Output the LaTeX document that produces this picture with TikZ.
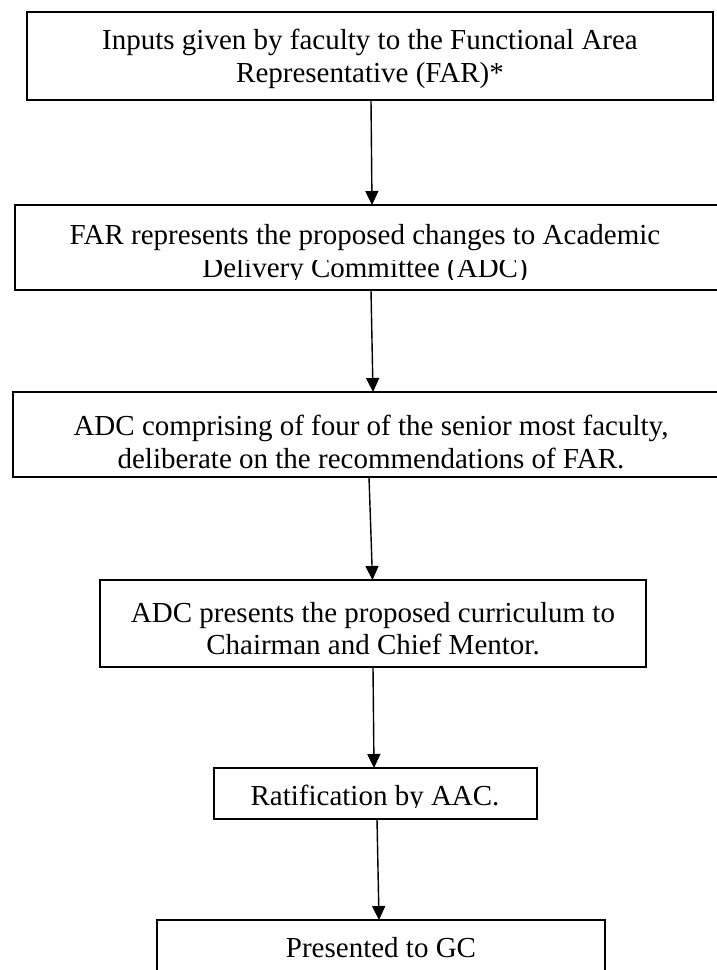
\documentclass[tikz,border=0pt]{standalone}
\usepackage{fontspec}
\setmainfont{Liberation Serif}
\usetikzlibrary{arrows.meta}
\begin{document}
\begin{tikzpicture}[x=1pt,y=-1pt,
  box/.style={draw=black, line width=2.3pt, inner sep=0pt, outer sep=0pt, anchor=north west},
  txt/.style={anchor=base, inner sep=0pt, font=\fontsize{29}{33}\selectfont},
  arr/.style={line width=1.4pt, -{Triangle[length=14pt,width=13pt]}}]
\useasboundingbox (0,0) rectangle (716,970);
\fill[white] (0,0) rectangle (716,970);

% boxes
\node[box, line width=2.8pt, minimum width=686pt, minimum height=88pt] (b1) at (27,12) {};
\node[box, minimum width=715pt, minimum height=85pt] (b2) at (15,205) {};
\node[box, minimum width=717pt, minimum height=85pt] (b3) at (13,392) {};
\node[box, minimum width=546pt, minimum height=87pt] (b4) at (100,580) {};
\node[box, minimum width=323pt, minimum height=51pt] (b5) at (214,768) {};
\node[box, minimum width=448pt, minimum height=80pt] (b6) at (157,920) {};

% texts
\node[txt] (t1a) at (370,49) {Inputs given by faculty to the Functional Area};
\node[txt] (t1b) at (370,82) {Representative (FAR)*};

\node[txt] (t2a) at (365,244) {FAR represents the proposed changes to Academic};
\begin{scope}
  \clip (0,260) rectangle (716,279);
  \node[txt] (t2b) at (365,277) {Delivery Committee (ADC)};
\end{scope}

\node[txt] (t3a) at (371,435) {ADC comprising of four of the senior most faculty,};
\node[txt] (t3b) at (371,468) {deliberate on the recommendations of FAR.};

\node[txt] (t4a) at (373,622) {ADC presents the proposed curriculum to};
\node[txt] (t4b) at (373,654) {Chairman and Chief Mentor.};

\begin{scope}
  \clip (0,780) rectangle (716,807);
  \node[txt] (t5) at (375,805) {Ratification by AAC.};
\end{scope}

\node[txt] (t6) at (381,957) {Presented to GC};

% arrows
\draw[arr] ([xshift=1pt]b1.south) -- ([xshift=-0.5pt]b2.north);
\draw[arr] ([xshift=-1.5pt]b2.south) -- ([xshift=1.5pt]b3.north);
\draw[arr] ([xshift=-2.5pt]b3.south) -- ([xshift=-0.5pt]b4.north);
\draw[arr] (b4.south) -- ([xshift=-1.5pt]b5.north);
\draw[arr] ([xshift=1.5pt]b5.south) -- ([xshift=-2pt]b6.north);
\end{tikzpicture}
\end{document}
